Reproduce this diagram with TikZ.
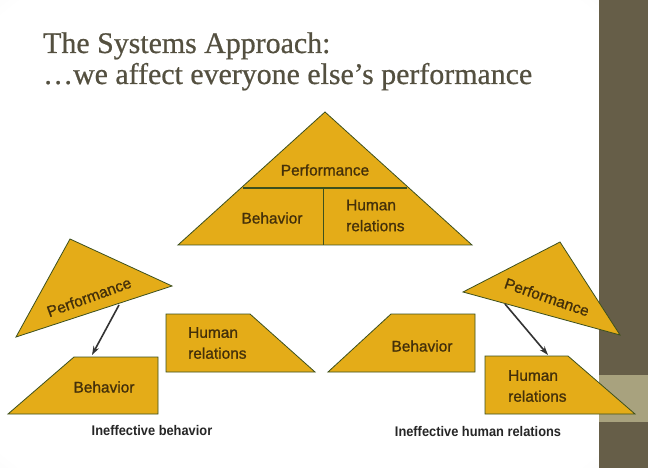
\documentclass[tikz,border=0pt]{standalone}
\usepackage{fontspec}
\setmainfont{Liberation Serif}
\newfontfamily\ttlfont[FakeBold=0.6]{Liberation Serif}
\newfontfamily\lblfont[FakeBold=1]{Liberation Sans}
\newfontfamily\capfont[FakeStretch=0.92]{Liberation Sans}
\usetikzlibrary{arrows.meta}
\definecolor{gold}{RGB}{228,172,24}
\definecolor{edgeg}{RGB}{60,80,30}
\definecolor{lbl}{RGB}{68,48,10}
\definecolor{ttl}{RGB}{84,80,64}
\definecolor{side}{RGB}{102,94,72}
\definecolor{band}{RGB}{168,162,126}
\pgfdeclareradialshading{vign}{\pgfpoint{0bp}{0bp}}{color(0bp)=(white); color(34bp)=(white); color(72bp)=(black!26)}
\tikzset{
  shp/.style={fill=gold, draw=edgeg, line width=0.8bp, line join=miter},
  lab/.style={font=\lblfont\fontsize{15.5}{21}\selectfont, text=lbl, inner sep=0pt},
  captxt/.style={font=\capfont\bfseries\fontsize{14}{16}\selectfont, text=black!85, inner sep=0pt},
  ttlstyle/.style={font=\ttlfont\fontsize{30}{34}\selectfont, text=ttl, inner sep=0pt, anchor=base west},
  arr/.style={draw=black!80, line width=1.6bp, -{Stealth[length=9bp,width=6bp]}}
}
\begin{document}
\begin{tikzpicture}[x=1bp,y=-1bp]
\useasboundingbox (0,0) rectangle (648,468);
% background
\shade[shading=vign] (0,0) rectangle (599,468);
\fill[side] (599,0) rectangle (648,468);
\fill[band] (599,375) rectangle (648,422);
% title
\node[ttlstyle] (t1) at (43,53) {The Systems Approach:};
\node[ttlstyle] (t2) at (43,84) {…we affect everyone else’s performance};
% top triangle
\draw[shp] (178,245) -- (325,112) -- (472,245) -- cycle;
\coordinate (hl) at (243,188);
\coordinate (hr) at (407,188);
\coordinate (vt) at (323,188);
\coordinate (vb) at (323,245);
\draw[edgeg, line width=2.6bp] (hl) -- (hr);
\draw[edgeg, line width=0.8bp] (vt) -- (vb);
\node[lab] (perf) at (325,170) {Performance};
\node[lab] (beh) at (272,218) {Behavior};
\node[lab, align=left, anchor=west] (hum) at (346,215.5) {Human\\relations};
% left triangle
\draw[shp] (70,239) -- (172,286) -- (16,337) -- cycle;
\node[lab, rotate=20] (lperf) at (89,297) {Performance};
% left behavior trapezoid
\draw[shp] (74,357) -- (158,357) -- (158,414) -- (8,414) -- cycle;
\node[lab] (lbeh) at (104,387) {Behavior};
% middle-left human relations trapezoid
\draw[shp] (166,314) -- (250,314) -- (315,372) -- (166,372) -- cycle;
\node[lab, align=left, anchor=west] (lhum) at (188,343) {Human\\relations};
% right triangle
\draw[shp] (560,242) -- (620,335) -- (463,292) -- cycle;
\node[lab, rotate=-19] (rperf) at (547,297) {Performance};
% right behavior trapezoid
\draw[shp] (391,314) -- (475,314) -- (475,372) -- (328,372) -- cycle;
\node[lab] (rbeh) at (422,346) {Behavior};
% right human relations trapezoid
\draw[shp] (485,356) -- (568,356) -- (635,414) -- (485,414) -- cycle;
\node[lab, align=left, anchor=west] (rhum) at (508,386) {Human\\relations};
% arrows
\coordinate (la1) at (119,305);
\coordinate (la2) at (92,355);
\coordinate (ra1) at (505,304);
\coordinate (ra2) at (548,355);
\draw[arr] (la1) -- (la2);
\draw[arr] (ra1) -- (ra2);
% captions
\node[captxt] (c1) at (152,431) {Ineffective behavior};
\node[captxt] (c2) at (478,432) {Ineffective human relations};
\end{tikzpicture}
\end{document}
